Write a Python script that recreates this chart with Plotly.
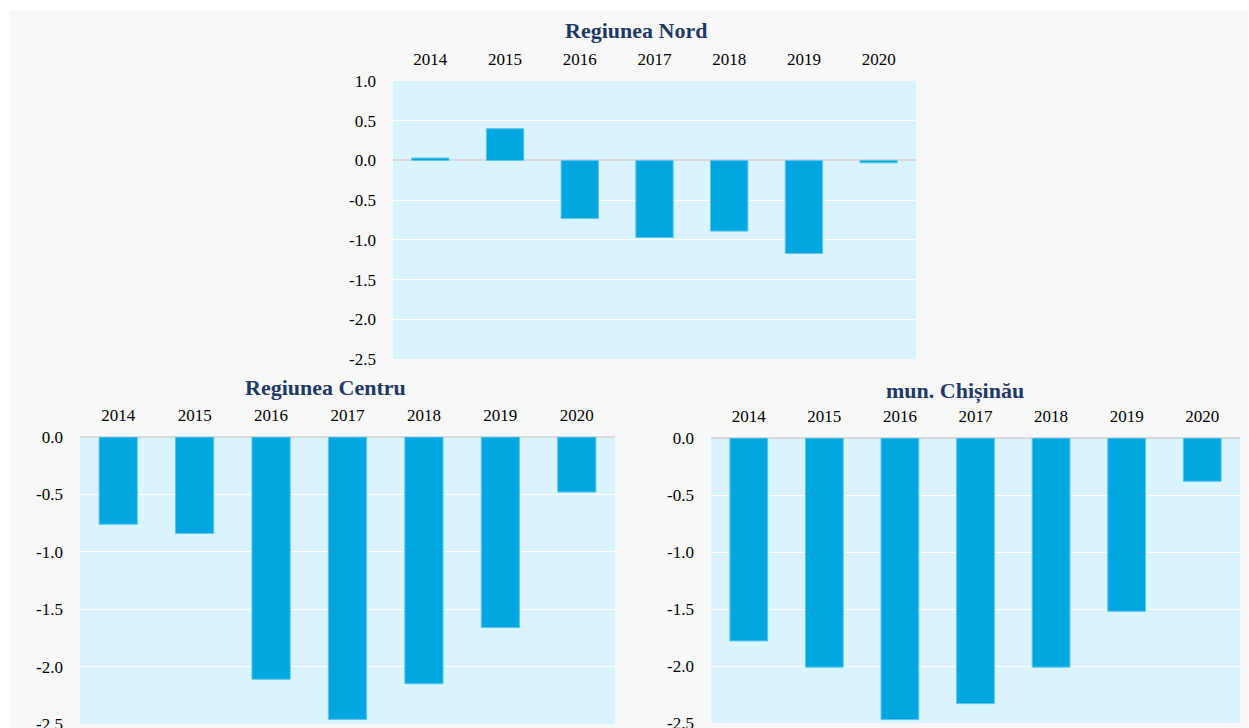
import plotly.graph_objects as go

years = ["2014", "2015", "2016", "2017", "2018", "2019", "2020"]
nord = [0.03, 0.40, -0.73, -0.97, -0.89, -1.17, -0.03]
centru = [-0.76, -0.84, -2.11, -2.46, -2.15, -1.66, -0.48]
chisinau = [-1.78, -2.01, -2.47, -2.33, -2.01, -1.52, -0.38]
titles = ["Regiunea Nord", "Regiunea Centru", "mun. Chișinău"]
nord_ticks = [1.0, 0.5, 0.0, -0.5, -1.0, -1.5, -2.0, -2.5]
low_ticks = [0.0, -0.5, -1.0, -1.5, -2.0, -2.5]

W, H = 1249, 728
BAR = "#00a6df"
PLOT_BG = "#d9f4fd"
PANEL = "#f8f8f8"
TITLE_C = "#1f3864"
FONT = "Liberation Serif"


def fx(px):
    return px / W


def fy(py):
    return 1 - py / H


def lab(v):
    return f"{v:.1f}".replace("\u2212", "-")


fig = go.Figure()

panels = [
    (nord, "x", "y", (393, 916), (81, 359), nord_ticks, [-2.5, 1.0]),
    (centru, "x2", "y2", (80, 615), (437, 724), low_ticks, [-2.5, 0.0]),
    (chisinau, "x3", "y3", (711, 1240), (438, 723), low_ticks, [-2.5, 0.0]),
]

layout = {}
for i, (vals, xa, ya, (x0, x1), (y0, y1), ticks, rng) in enumerate(panels):
    fig.add_trace(go.Bar(
        x=years, y=vals, xaxis=xa, yaxis=ya,
        marker=dict(color=BAR, line=dict(color="#5cc6ec", width=1)),
        width=0.5, showlegend=False, hoverinfo="x+y",
    ))
    sfx = "" if i == 0 else str(i + 1)
    layout["xaxis" + sfx] = dict(
        domain=[fx(x0), fx(x1)], anchor="y" + sfx, side="top",
        showgrid=False, zeroline=False, showline=False, ticks="",
        ticklabelstandoff=12, automargin=False,
        tickfont=dict(family=FONT, size=17, color="#000000"),
        type="category", fixedrange=True,
    )
    layout["yaxis" + sfx] = dict(
        domain=[fy(y1), fy(y0)], anchor="x" + sfx, range=rng,
        tickvals=ticks, ticktext=[lab(t) for t in ticks],
        showgrid=True, gridcolor="#ffffff", gridwidth=1,
        zeroline=True, zerolinecolor="#d9d9d9", zerolinewidth=1.5,
        showline=False, ticks="", ticklabelstandoff=16, automargin=False,
        ticklabeloverflow="allow",
        tickfont=dict(family=FONT, size=17, color="#000000"),
        fixedrange=True,
    )

shapes = [
    dict(type="rect", xref="paper", yref="paper", x0=fx(9), x1=fx(1248), y0=0, y1=fy(11),
         fillcolor=PANEL, line=dict(width=0), layer="below"),
]
for (vals, xa, ya, (x0, x1), (y0, y1), ticks, rng) in panels:
    shapes.append(dict(type="rect", xref="paper", yref="paper", x0=fx(x0), x1=fx(x1),
                       y0=fy(y1), y1=fy(y0), fillcolor=PLOT_BG, line=dict(width=0), layer="below"))

title_pos = [(636, 31), (325, 387), (955, 391)]
annotations = [
    dict(text=f"<b>{t}</b>", x=fx(px), y=fy(py), xref="paper", yref="paper",
         xanchor="center", yanchor="middle",
         showarrow=False, font=dict(family=FONT, size=22, color=TITLE_C))
    for t, (px, py) in zip(titles, title_pos)
]

fig.update_layout(
    width=W, height=H, margin=dict(l=0, r=0, t=0, b=0, autoexpand=False),
    paper_bgcolor="#ffffff", plot_bgcolor="rgba(0,0,0,0)",
    shapes=shapes, annotations=annotations, bargap=0.5,
    **layout,
)

fig.write_html(
    "out.html",
    config={"displayModeBar": False},
    post_script="document.body.style.margin='0';document.body.style.overflow='hidden';",
)
